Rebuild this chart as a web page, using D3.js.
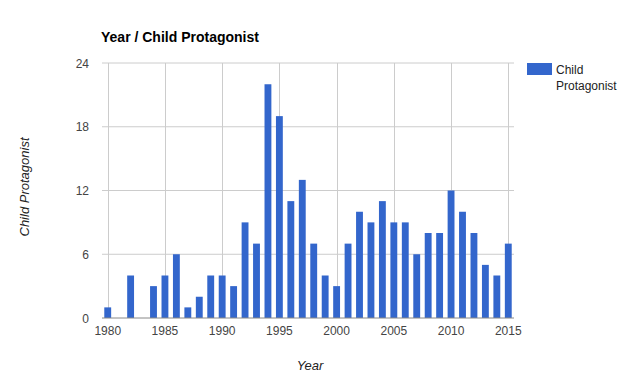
<!DOCTYPE html>
<html>
<head>
<meta charset="utf-8">
<script src="https://cdn.jsdelivr.net/npm/d3@7"></script>
<style>
  body { margin: 0; background: #fff; }
  svg { font-family: Arial, "Liberation Sans", sans-serif; }
</style>
</head>
<body>
<div id="chart"></div>
<script>
const years = d3.range(1980, 2016);
const childProtagonist = [1, 0, 4, 0, 3, 4, 6, 1, 2, 4, 4, 3, 9, 7, 22, 19, 11, 13, 7, 4,
  3, 7, 10, 9, 11, 9, 9, 6, 8, 8, 12, 10, 8, 5, 4, 7];
const yTicks = [0, 6, 12, 18, 24];
const xTicks = [1980, 1985, 1990, 1995, 2000, 2005, 2010, 2015];

const width = 620, height = 372;
const margin = {top: 63, right: 106, bottom: 54, left: 102};
const innerW = width - margin.left - margin.right;
const innerH = height - margin.top - margin.bottom;

const svg = d3.select("#chart").append("svg")
    .attr("width", width)
    .attr("height", height);

const g = svg.append("g")
    .attr("transform", `translate(${margin.left},${margin.top})`);

const x = d3.scaleLinear()
    .domain([1979.5, 2015.5])
    .range([0, innerW]);

const y = d3.scaleLinear()
    .domain([0, 24])
    .range([innerH, 0]);

// gridlines
g.selectAll(".hgrid")
    .data(yTicks.slice(1))
    .enter()
    .append("line")
    .attr("x1", 0).attr("x2", innerW)
    .attr("y1", d => y(d)).attr("y2", d => y(d))
    .attr("stroke", "#cccccc");

g.selectAll(".vgrid")
    .data(xTicks)
    .enter()
    .append("line")
    .attr("x1", d => Math.round(x(d)) + 0.5).attr("x2", d => Math.round(x(d)) + 0.5)
    .attr("y1", 0).attr("y2", innerH)
    .attr("stroke", "#cccccc");

const barW = (x(1) - x(0)) * 0.6;

g.selectAll(".bar")
    .data(years.map((yr, i) => ({year: yr, value: childProtagonist[i]})))
    .enter()
    .append("rect")
    .attr("x", d => x(d.year) - barW / 2)
    .attr("y", d => y(d.value))
    .attr("width", barW)
    .attr("height", d => innerH - y(d.value))
    .attr("fill", "#3366cc");

// baseline
g.append("line")
    .attr("x1", 0).attr("x2", innerW)
    .attr("y1", y(0)).attr("y2", y(0))
    .attr("stroke", "#888888");

// axis labels
g.selectAll(".ylab")
    .data(yTicks)
    .enter()
    .append("text")
    .attr("x", -13)
    .attr("y", d => y(d) + 4.5)
    .attr("text-anchor", "end")
    .attr("font-size", 12)
    .attr("fill", "#444")
    .text(d => d);

g.selectAll(".xlab")
    .data(xTicks)
    .enter()
    .append("text")
    .attr("x", d => x(d))
    .attr("y", innerH + 17)
    .attr("text-anchor", "middle")
    .attr("font-size", 12)
    .attr("fill", "#444")
    .text(d => d);

// title
svg.append("text")
    .attr("x", 101)
    .attr("y", 42)
    .attr("font-size", 14)
    .attr("font-weight", "bold")
    .attr("fill", "#000")
    .text("Year / Child Protagonist");

// axis titles
svg.append("text")
    .attr("x", 310)
    .attr("y", 370)
    .attr("text-anchor", "middle")
    .attr("font-size", 13)
    .attr("font-style", "italic")
    .attr("fill", "#222")
    .text("Year");

svg.append("text")
    .attr("transform", "translate(29,187) rotate(-90)")
    .attr("text-anchor", "middle")
    .attr("font-size", 13)
    .attr("font-style", "italic")
    .attr("fill", "#222")
    .text("Child Protagonist");

// legend
svg.append("rect")
    .attr("x", 527).attr("y", 63)
    .attr("width", 25).attr("height", 12)
    .attr("fill", "#3366cc");

const legText = svg.append("text")
    .attr("font-size", 12)
    .attr("fill", "#222");
legText.append("tspan").attr("x", 556).attr("y", 74).text("Child");
legText.append("tspan").attr("x", 556).attr("y", 90).text("Protagonist");
</script>
</body>
</html>
